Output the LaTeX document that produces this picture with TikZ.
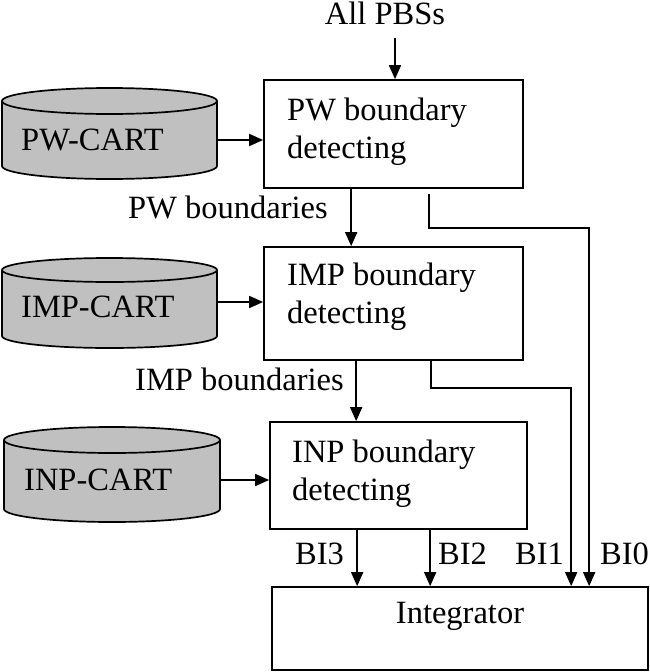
\documentclass[tikz,border=0pt]{standalone}
\usepackage{fontspec}
\setmainfont{Liberation Serif}
\usetikzlibrary{arrows.meta}
\definecolor{cylgray}{RGB}{192,192,192}
\begin{document}
\begin{tikzpicture}[x=1pt,y=-1pt,
  font=\fontsize{32.5}{38}\selectfont,
  box/.style={draw, line width=1.7pt, inner sep=0pt},
  ln/.style={line width=1.7pt},
  arr/.style={line width=1.7pt, -{Triangle[length=14pt,width=12pt]}},
  lbl/.style={anchor=base west, inner sep=0pt},
  cyl/.style={fill=cylgray, draw=black, line width=1.7pt}]
\useasboundingbox (0,0) rectangle (650,672);

% boxes
\node[box, minimum width=259pt, minimum height=108pt] (b1) at (393.5,134) {};
\node[box, minimum width=259pt, minimum height=113pt] (b2) at (393.5,303.5) {};
\node[box, minimum width=257pt, minimum height=107pt] (b3) at (398.5,475.5) {};
\node[box, minimum width=376pt, minimum height=83pt] (int) at (460,628.5) {};

% box texts
\node[lbl] (b1ta) at (287,120) {PW boundary};
\node[lbl] (b1tb) at (287,158) {detecting};
\node[lbl] (b2ta) at (287,285) {IMP boundary};
\node[lbl] (b2tb) at (287,323) {detecting};
\node[lbl] (b3ta) at (292,462) {INP boundary};
\node[lbl] (b3tb) at (292,500) {detecting};
\node[anchor=base, inner sep=0pt] (intt) at (460,623) {Integrator};

% cylinders
\filldraw[cyl] (2,101) -- (2,166) arc[start angle=180,end angle=0,x radius=107.5,y radius=13] -- (217,101) arc[start angle=0,end angle=-180,x radius=107.5,y radius=13] -- cycle;
\draw[ln] (2,101) arc[start angle=180,end angle=0,x radius=107.5,y radius=13];
\node[lbl] (pwc) at (21,150) {PW-CART};

\filldraw[cyl] (2,270) -- (2,336) arc[start angle=180,end angle=0,x radius=107.5,y radius=12] -- (217,270) arc[start angle=0,end angle=-180,x radius=107.5,y radius=12] -- cycle;
\draw[ln] (2,270) arc[start angle=180,end angle=0,x radius=107.5,y radius=12];
\node[lbl] (impc) at (21,317) {IMP-CART};

\filldraw[cyl] (4,440) -- (4,509) arc[start angle=180,end angle=0,x radius=108,y radius=13] -- (220,440) arc[start angle=0,end angle=-180,x radius=108,y radius=13] -- cycle;
\draw[ln] (4,440) arc[start angle=180,end angle=0,x radius=108,y radius=13];
\node[lbl] (inpc) at (24,490) {INP-CART};

% ports of the cylinders
\coordinate (pwout) at (217,140);
\coordinate (impout) at (217,302);
\coordinate (inpout) at (220,480);
\draw[arr] (pwout) -- (pwout -| b1.west);
\draw[arr] (impout) -- (impout -| b2.west);
\draw[arr] (inpout) -- (inpout -| b3.west);

% input
\node[anchor=base, inner sep=0pt] (all) at (385,24) {All PBSs};
\coordinate (allout) at (395,38);
\draw[arr] (allout) -- (allout |- b1.north);

% vertical flow
\draw[arr] ([xshift=88pt]b1.south west) -- ([xshift=88pt]b2.north west);
\draw[arr] ([xshift=93pt]b2.south west) -- ([xshift=87pt]b3.north west);
\draw[arr] ([xshift=88pt]b3.south west) -- ([xshift=86pt]int.north west);
\draw[arr] ([xshift=161pt]b3.south west) -- ([xshift=159pt]int.north west);

% bypass lines
\draw[arr] ([xshift=166pt,yshift=-5pt]b1.south west) -- ++(0,34) -| ([xshift=318pt]int.north west);
\draw[arr] ([xshift=168pt]b2.south west) -- ++(0,27) -| ([xshift=300pt]int.north west);

% labels
\node[lbl] (l1) at (128,218) {PW boundaries};
\node[lbl] (l2) at (135,390) {IMP boundaries};
\node[lbl] (bi3) at (295,564) {BI3};
\node[lbl] (bi2) at (438,564) {BI2};
\node[lbl] (bi1) at (515,564) {BI1};
\node[lbl] (bi0) at (600,564) {BI0};
\end{tikzpicture}
\end{document}
